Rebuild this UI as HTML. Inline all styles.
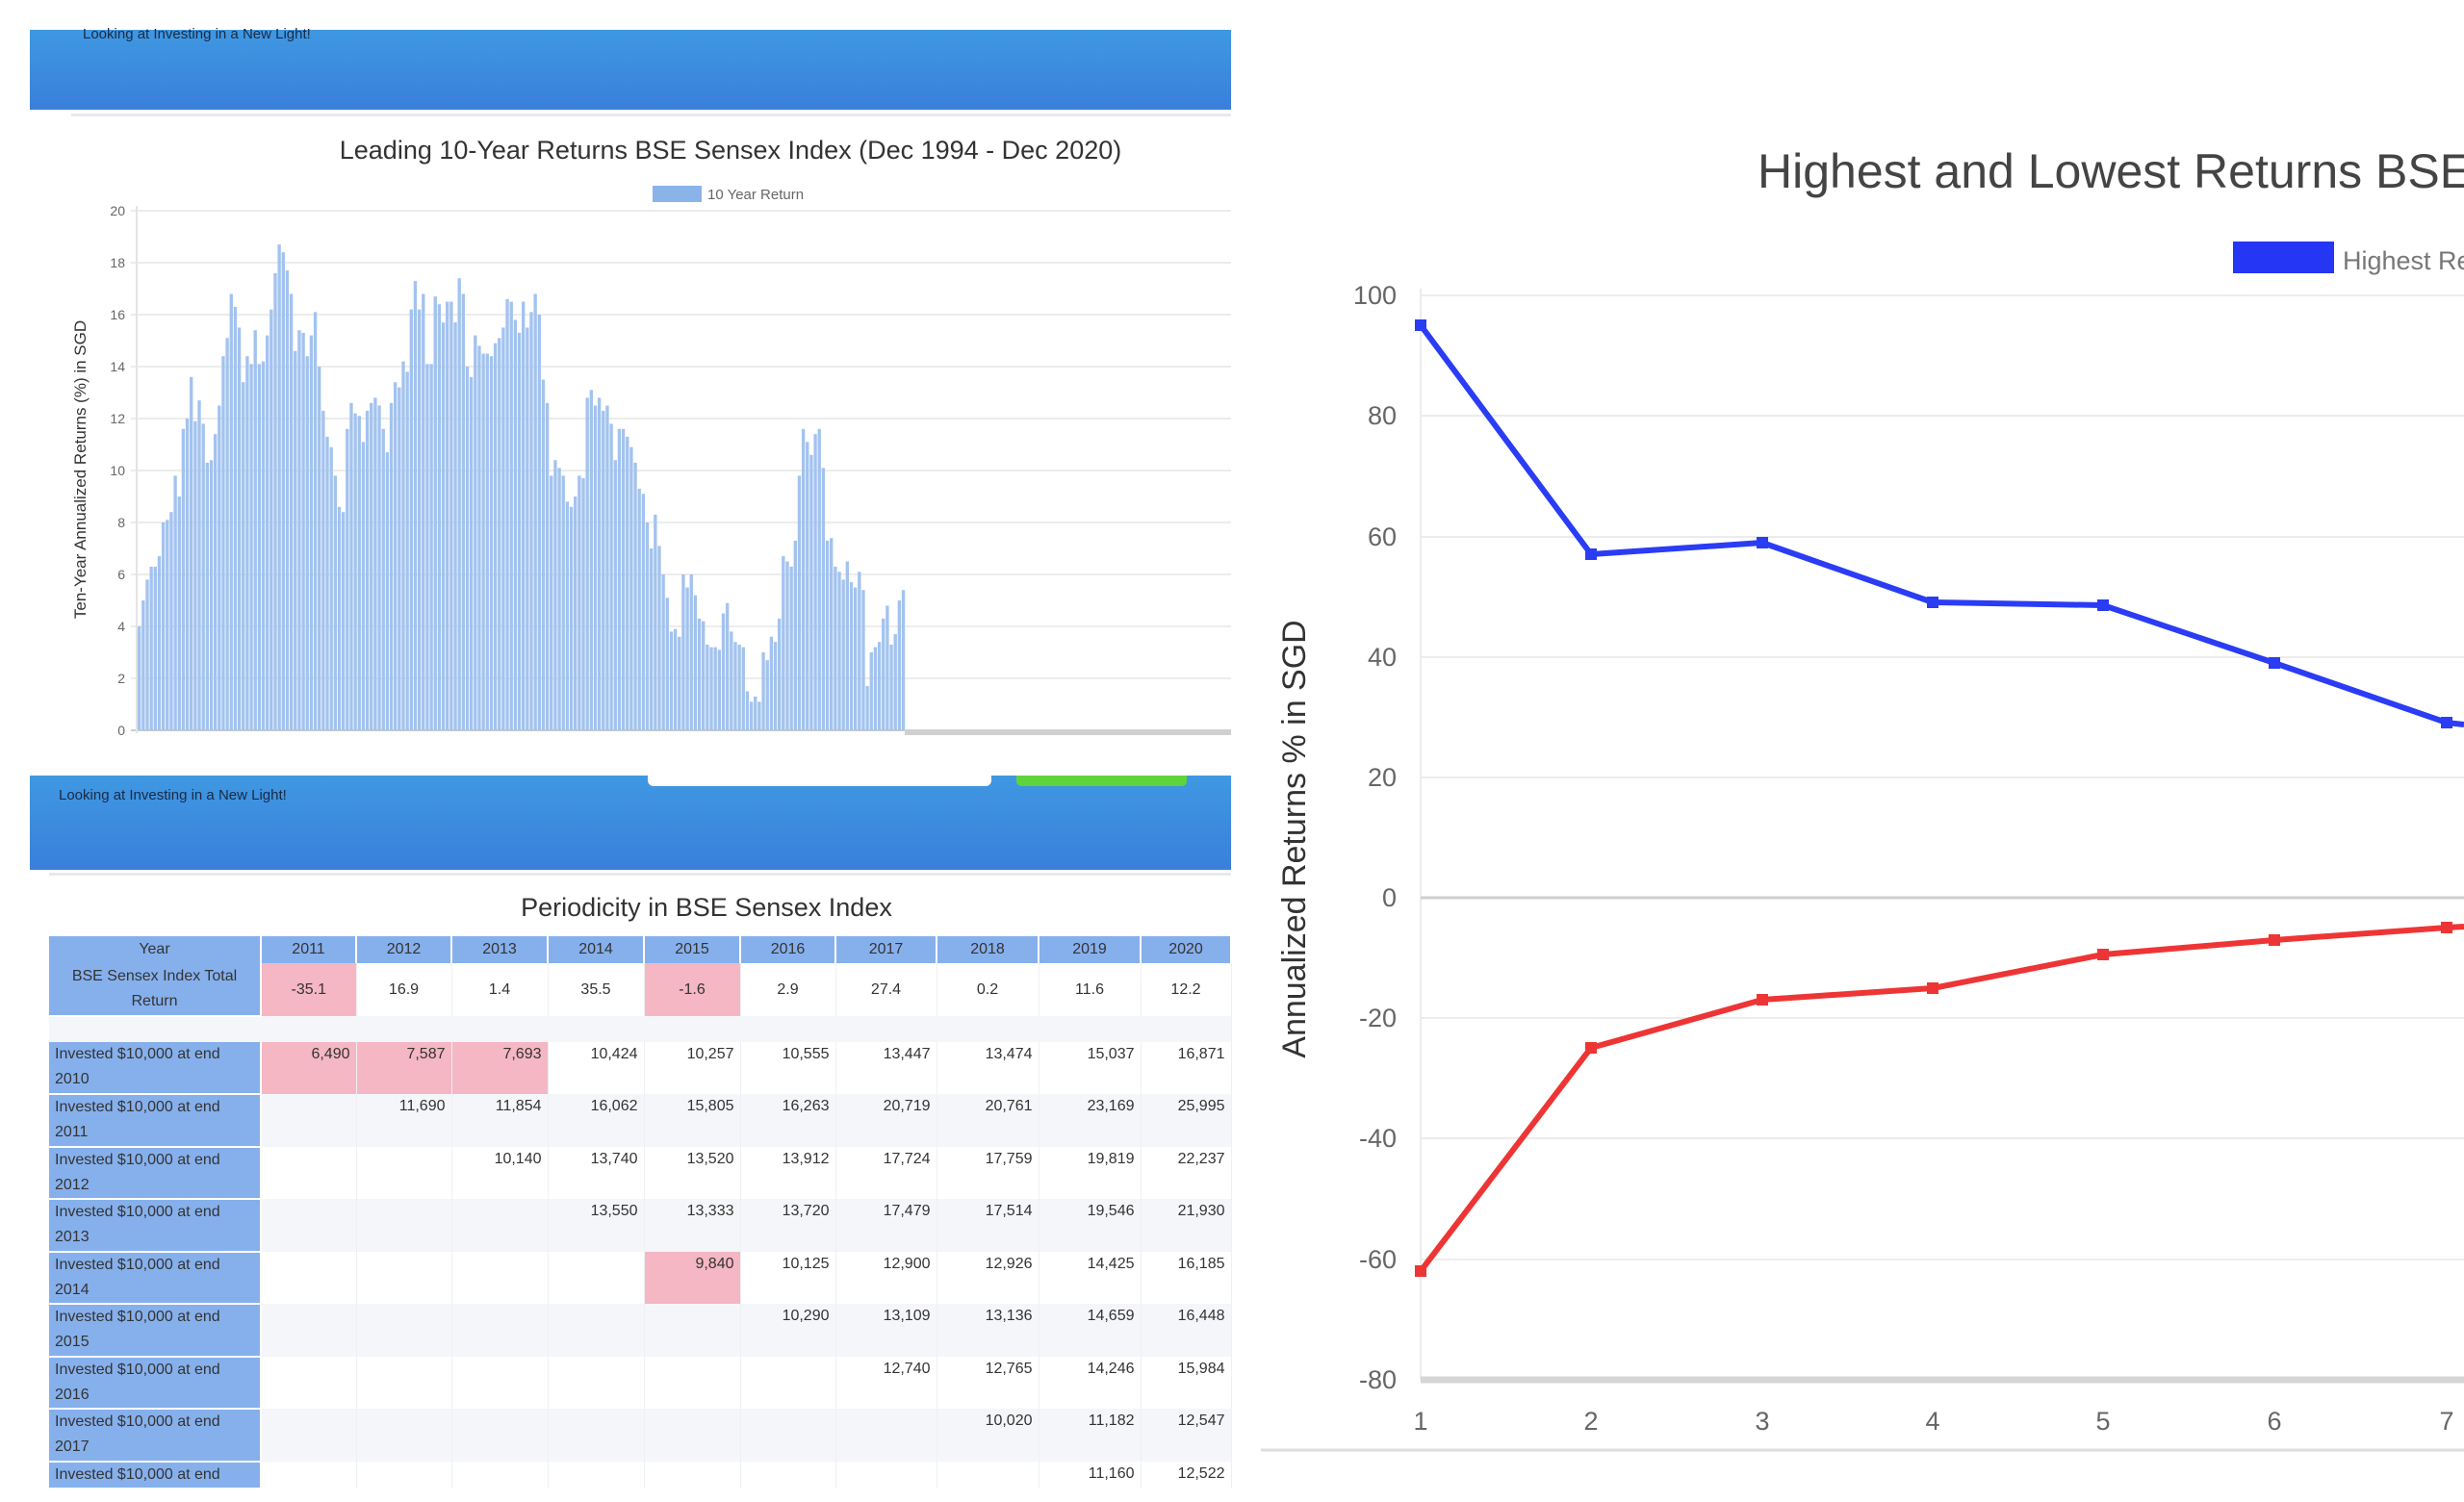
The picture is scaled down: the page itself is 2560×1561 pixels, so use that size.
<!DOCTYPE html>
<html><head><meta charset="utf-8"><style>
body{margin:0;width:2560px;height:1561px;background:#fff;position:relative;overflow:hidden;font-family:"Liberation Sans",sans-serif}
.ban{position:absolute;left:31px;width:1248px;background:linear-gradient(#3f98e2,#3a7fdb)}
.bt{position:absolute;font-size:15px;color:#1a2a44}
table{position:absolute;left:51px;top:973px;border-collapse:collapse;width:1228px;font-family:"Liberation Sans Narrow","Liberation Sans",sans-serif;font-size:16px;color:#333;table-layout:fixed}
td{padding:0 6px;border-right:1px solid #eef0f3;vertical-align:top;text-align:right;line-height:26px}
td.h{background:#86b0ec;text-align:left;border-bottom:2px solid #fff;border-right:2px solid #fff}
tr.hd td{background:#86b0ec;text-align:center;border-right:2px solid #fff;vertical-align:middle}
tr.g td:not(.h){background:#f5f6f9}
.p{background:#f4b7c3!important}
</style></head><body>
<div class="ban" style="top:31px;height:83px"></div>
<div class="bt" style="left:86px;top:27px">Looking at Investing in a New Light!</div>
<div style="position:absolute;left:74px;top:118px;width:1205px;height:3px;background:#e6e9ee"></div>
<svg style="position:absolute;left:0;top:0" width="1290" height="800" id="bar">
<text x="759" y="165" font-size="27" text-anchor="middle" fill="#333" font-family="Liberation Sans Narrow, Liberation Sans, sans-serif">Leading 10-Year Returns BSE Sensex Index (Dec 1994 - Dec 2020)</text>
<rect x="678" y="193" width="51" height="17" fill="#8ab3ea"/>
<text x="735" y="207" font-size="15" fill="#666">10 Year Return</text>
<text transform="translate(89,488) rotate(-90)" font-size="17" fill="#333" text-anchor="middle">Ten-Year Annualized Returns (%) in SGD</text>
<g id="grid"></g><g id="bars"></g>
<rect x="940" y="758" width="339" height="6" fill="#d0d0d0"/>
</svg>
<div class="ban" style="top:806px;height:98px"></div>
<div style="position:absolute;left:673px;top:806px;width:357px;height:11px;background:#fff;border-radius:0 0 6px 6px"></div>
<div style="position:absolute;left:1056px;top:806px;width:177px;height:11px;background:#5fd43a;border-radius:0 0 5px 5px"></div>
<div class="bt" style="left:61px;top:818px">Looking at Investing in a New Light!</div>
<div style="position:absolute;left:51px;top:907px;width:1228px;height:3px;background:#e6e9ee"></div>
<div style="position:absolute;left:0;width:1468px;top:928px;text-align:center;font-size:27px;color:#333;font-family:'Liberation Sans Narrow','Liberation Sans',sans-serif">Periodicity in BSE Sensex Index</div>
<table>
<colgroup><col style="width:220px"><col style="width:99px"><col style="width:99px"><col style="width:100px"><col style="width:100px"><col style="width:100px"><col style="width:99px"><col style="width:105px"><col style="width:106px"><col style="width:106px"><col style="width:94px"></colgroup>
<tr class="hd" style="height:28px"><td>Year</td><td>2011</td><td>2012</td><td>2013</td><td>2014</td><td>2015</td><td>2016</td><td>2017</td><td>2018</td><td>2019</td><td>2020</td></tr>
<tr style="height:55px"><td class="h" style="text-align:center;vertical-align:middle">BSE Sensex Index Total Return</td><td class="p" style="text-align:center;vertical-align:middle">-35.1</td><td style="text-align:center;vertical-align:middle">16.9</td><td style="text-align:center;vertical-align:middle">1.4</td><td style="text-align:center;vertical-align:middle">35.5</td><td class="p" style="text-align:center;vertical-align:middle">-1.6</td><td style="text-align:center;vertical-align:middle">2.9</td><td style="text-align:center;vertical-align:middle">27.4</td><td style="text-align:center;vertical-align:middle">0.2</td><td style="text-align:center;vertical-align:middle">11.6</td><td style="text-align:center;vertical-align:middle">12.2</td></tr>
<tr style="height:27px"><td colspan="11" style="background:#f5f6f9"></td></tr>
<tr style="height:54px"><td class="h">Invested $10,000 at end 2010</td><td class="p">6,490</td><td class="p">7,587</td><td class="p">7,693</td><td>10,424</td><td>10,257</td><td>10,555</td><td>13,447</td><td>13,474</td><td>15,037</td><td>16,871</td></tr>
<tr class="g" style="height:55px"><td class="h">Invested $10,000 at end 2011</td><td></td><td>11,690</td><td>11,854</td><td>16,062</td><td>15,805</td><td>16,263</td><td>20,719</td><td>20,761</td><td>23,169</td><td>25,995</td></tr>
<tr style="height:54px"><td class="h">Invested $10,000 at end 2012</td><td></td><td></td><td>10,140</td><td>13,740</td><td>13,520</td><td>13,912</td><td>17,724</td><td>17,759</td><td>19,819</td><td>22,237</td></tr>
<tr class="g" style="height:55px"><td class="h">Invested $10,000 at end 2013</td><td></td><td></td><td></td><td>13,550</td><td>13,333</td><td>13,720</td><td>17,479</td><td>17,514</td><td>19,546</td><td>21,930</td></tr>
<tr style="height:54px"><td class="h">Invested $10,000 at end 2014</td><td></td><td></td><td></td><td></td><td class="p">9,840</td><td>10,125</td><td>12,900</td><td>12,926</td><td>14,425</td><td>16,185</td></tr>
<tr class="g" style="height:55px"><td class="h">Invested $10,000 at end 2015</td><td></td><td></td><td></td><td></td><td></td><td>10,290</td><td>13,109</td><td>13,136</td><td>14,659</td><td>16,448</td></tr>
<tr style="height:54px"><td class="h">Invested $10,000 at end 2016</td><td></td><td></td><td></td><td></td><td></td><td></td><td>12,740</td><td>12,765</td><td>14,246</td><td>15,984</td></tr>
<tr class="g" style="height:55px"><td class="h">Invested $10,000 at end 2017</td><td></td><td></td><td></td><td></td><td></td><td></td><td></td><td>10,020</td><td>11,182</td><td>12,547</td></tr>
<tr style="height:28px"><td class="h">Invested $10,000 at end</td><td></td><td></td><td></td><td></td><td></td><td></td><td></td><td></td><td>11,160</td><td>12,522</td></tr>
</table>
<svg style="position:absolute;left:1290px;top:0" width="1270" height="1561" viewBox="1290 0 1270 1561" font-family="Liberation Sans, sans-serif">
<text x="1826" y="195" font-size="50" fill="#444">Highest and Lowest Returns BSE Sensex Index</text>
<rect x="2320" y="251" width="105" height="33" fill="#2536f5"/>
<text x="2434" y="280" font-size="27" fill="#777">Highest Returns</text>
<g stroke="#ececec" stroke-width="2">
<line x1="1476" y1="307" x2="2560" y2="307"/><line x1="1476" y1="432" x2="2560" y2="432"/><line x1="1476" y1="558" x2="2560" y2="558"/><line x1="1476" y1="683" x2="2560" y2="683"/><line x1="1476" y1="808" x2="2560" y2="808"/><line x1="1476" y1="1058" x2="2560" y2="1058"/><line x1="1476" y1="1183" x2="2560" y2="1183"/><line x1="1476" y1="1309" x2="2560" y2="1309"/>
<line x1="1476" y1="300" x2="1476" y2="1434"/>
</g>
<line x1="1476" y1="933" x2="2560" y2="933" stroke="#cfcfcf" stroke-width="3"/>
<line x1="1476" y1="1434" x2="2560" y2="1434" stroke="#d6d6d6" stroke-width="7"/>
<g font-size="27" fill="#666" text-anchor="end">
<text x="1451" y="316">100</text><text x="1451" y="441">80</text><text x="1451" y="567">60</text><text x="1451" y="692">40</text><text x="1451" y="817">20</text><text x="1451" y="942">0</text><text x="1451" y="1067">-20</text><text x="1451" y="1192">-40</text><text x="1451" y="1318">-60</text><text x="1451" y="1443">-80</text>
</g>
<g font-size="27" fill="#666" text-anchor="middle">
<text x="1476" y="1486">1</text><text x="1653" y="1486">2</text><text x="1831" y="1486">3</text><text x="2008" y="1486">4</text><text x="2185" y="1486">5</text><text x="2363" y="1486">6</text><text x="2542" y="1486">7</text>
</g>
<text transform="translate(1356,872) rotate(-90)" font-size="34" fill="#333" text-anchor="middle">Annualized Returns % in SGD</text>
<polyline fill="none" stroke="#2b3cf5" stroke-width="6" stroke-linejoin="round" points="1476,338 1653,576 1831,564 2008,626 2185,629 2363,689 2542,751 2560,753"/>
<polyline fill="none" stroke="#ee3535" stroke-width="6" stroke-linejoin="round" points="1476,1321 1653,1089 1831,1039 2008,1027 2185,992 2363,977 2542,964 2560,963"/>
<g fill="#2b3cf5"><rect x="1470" y="332" width="12" height="12"/><rect x="1647" y="570" width="12" height="12"/><rect x="1825" y="558" width="12" height="12"/><rect x="2002" y="620" width="12" height="12"/><rect x="2179" y="623" width="12" height="12"/><rect x="2357" y="683" width="12" height="12"/><rect x="2536" y="745" width="12" height="12"/></g>
<g fill="#ee3535"><rect x="1470" y="1315" width="12" height="12"/><rect x="1647" y="1083" width="12" height="12"/><rect x="1825" y="1033" width="12" height="12"/><rect x="2002" y="1021" width="12" height="12"/><rect x="2179" y="986" width="12" height="12"/><rect x="2357" y="971" width="12" height="12"/><rect x="2536" y="958" width="12" height="12"/></g>
<line x1="1310" y1="1507" x2="2560" y2="1507" stroke="#ddd" stroke-width="3"/>
</svg>
<script>
var v=[4,5,5.8,6.3,6.3,6.7,8,8.1,8.4,9.8,9,11.6,12,13.6,11.9,12.7,11.8,10.3,10.4,11.4,12.5,14.4,15.1,16.8,16.3,15.5,13.4,14.4,14.1,15.4,14.1,14.2,15.2,16.2,17.6,18.7,18.4,17.7,16.8,14.6,15.4,15.3,14.4,15.2,16.1,14,12.3,11.3,10.9,9.8,8.6,8.4,11.6,12.6,12.2,12.1,11.1,12.3,12.6,12.8,12.5,11.6,10.7,12.6,13.4,13.2,14.2,13.8,16.2,17.3,16.2,16.8,14.1,14.1,16.7,16.4,15.7,16.5,16.5,15.7,17.4,16.8,14,13.6,15.2,14.8,14.5,14.5,14.4,14.9,15.1,15.5,16.6,16.5,15.8,15.3,16.5,15.5,16.1,16.8,16,13.5,12.6,9.8,10.4,10.1,9.8,8.8,8.6,9,9.8,9.7,12.8,13.1,12.5,12.8,12.3,12.5,11.8,10.4,11.6,11.6,11.3,10.9,10.3,9.3,9.1,8,7,8.3,7.1,6,5.1,3.8,3.9,3.6,6,5.5,6,5.2,4.3,4.2,3.3,3.2,3.2,3.1,4.5,4.9,3.8,3.4,3.3,3.2,1.5,1.1,1.3,1.1,3,2.7,3.6,3.4,4.3,6.7,6.5,6.3,7.3,9.8,11.6,11.1,10.6,11.4,11.6,10.1,7.3,7.4,6.3,6.1,5.8,6.5,5.7,5.5,6.1,5.4,1.7,3,3.2,3.4,4.3,4.8,3.3,3.7,5,5.4];
var ns="http://www.w3.org/2000/svg",g=document.getElementById('grid'),b=document.getElementById('bars');
for(var i=0;i<=10;i++){var y=759-i*54;var l=document.createElementNS(ns,'line');l.setAttribute('x1',136);l.setAttribute('x2',1279);l.setAttribute('y1',y);l.setAttribute('y2',y);l.setAttribute('stroke',i==0?'#ccc':'#ececec');l.setAttribute('stroke-width',2);g.appendChild(l);
var t=document.createElementNS(ns,'text');t.setAttribute('x',130);t.setAttribute('y',y+5);t.setAttribute('font-size',14);t.setAttribute('fill','#666');t.setAttribute('text-anchor','end');t.textContent=i*2;g.appendChild(t);}
var l2=document.createElementNS(ns,'line');l2.setAttribute('x1',142);l2.setAttribute('x2',142);l2.setAttribute('y1',214);l2.setAttribute('y2',762);l2.setAttribute('stroke','#e4e4e4');l2.setAttribute('stroke-width',2);g.appendChild(l2);
var w=(941-143)/v.length;
for(var i=0;i<v.length;i++){var r=document.createElementNS(ns,'rect');var h=v[i]*27;r.setAttribute('x',143+i*w);r.setAttribute('width',w-0.8);r.setAttribute('y',759-h);r.setAttribute('height',h);r.setAttribute('fill','#a3c3ef');b.appendChild(r);}
</script>
</body></html>
